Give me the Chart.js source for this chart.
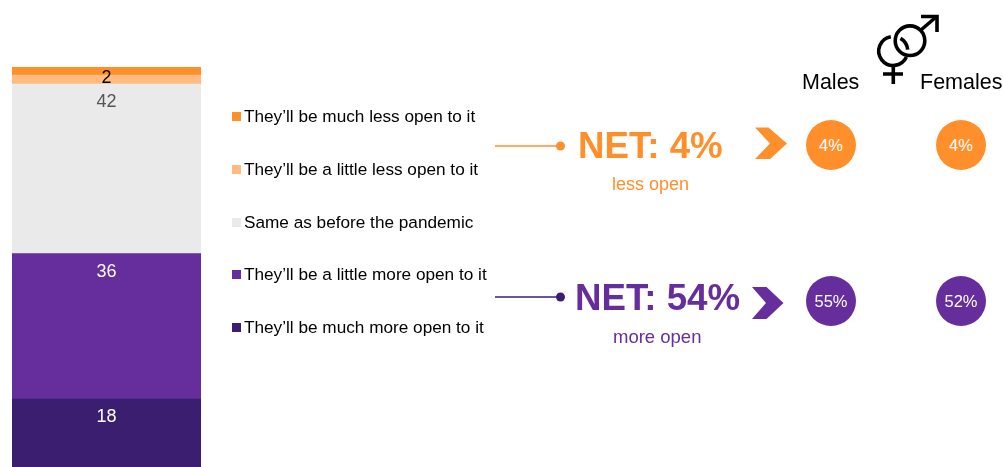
<!DOCTYPE html>
<html>
<head>
<meta charset="utf-8">
<script src="https://cdn.jsdelivr.net/npm/chart.js@4"></script>
<style>
html,body{margin:0;padding:0;background:#fff;width:1003px;height:467px;overflow:hidden}
#wrap{position:relative;width:1003px;height:467px;font-family:"Liberation Sans",Arial,sans-serif}
canvas{position:absolute;left:0;top:0}
.t{position:absolute;white-space:nowrap;line-height:1}
.sw{position:absolute;width:9px;height:9px}
.c{position:absolute;width:50px;height:50px;border-radius:50%;color:#fff;font-size:16.5px;display:flex;align-items:center;justify-content:center}
svg{position:absolute;left:0;top:0}
</style>
</head>
<body>
<div id="wrap">
<canvas id="chart" width="1003" height="467"></canvas>
<svg width="1003" height="467" viewBox="0 0 1003 467">
  <line x1="495" y1="146" x2="560" y2="146" stroke="#FF8F2B" stroke-width="1.4"/>
  <circle cx="560.5" cy="146" r="4.5" fill="#FF8F2B"/>
  <line x1="495" y1="297" x2="560" y2="297" stroke="#3B1E70" stroke-width="1.4"/>
  <circle cx="560.5" cy="297" r="4.5" fill="#3B1E70"/>
  <polygon points="755,127.5 768.5,127.5 787,143.5 770,159 755,159 770,143.5" fill="#FF8F2B"/>
  <polygon points="752,287 766.5,287 783.5,303 766.5,319 752,319 766,303" fill="#662D9C"/>
  <g fill="none" stroke="#000" stroke-width="3.6">
    <circle cx="910" cy="40.7" r="14.8"/>
    <path d="M921 30 L936 17"/>
    <path d="M921 16.5 H937 V32"/>
    <path d="M890.8 36.7 A14.5 14.5 0 1 0 906.4 57.1"/>
    <path d="M900.5 38.4 A14.5 14.5 0 0 1 907.7 49.7"/>
    <path d="M893.3 66 V84 M883 74 H903"/>
  </g>
</svg>
<div id="overlay"></div>
</div>
<script>
const categories = ['Openness'];
const seriesNames = [
  'They\u2019ll be much less open to it',
  'They\u2019ll be a little less open to it',
  'Same as before the pandemic',
  'They\u2019ll be a little more open to it',
  'They\u2019ll be much more open to it'
];
const muchLess = [2.0];
const littleLess = [2.2];
const same = [42];
const littleMore = [36];
const muchMore = [18];
const seriesColors = ['#FF8F2B', '#FFBB80', '#EAEAEA', '#662D9C', '#3B1E70'];
const valueLabelColors = ['', '#000000', '#555555', '#FFFFFF', '#FFFFFF'];
const netLess = 'NET: 4%';
const netMore = 'NET: 54%';
const groups = ['Males', 'Females'];
const lessByGroup = ['4%', '4%'];
const moreByGroup = ['55%', '52%'];

const seriesValues = [muchLess, littleLess, same, littleMore, muchMore];
const datasets = seriesNames.map((n, i) => ({
  label: n, data: seriesValues[i], backgroundColor: seriesColors[i],
  borderWidth: 0, barPercentage: 1, categoryPercentage: 1,
  labelColor: valueLabelColors[i]
})).reverse();

const valueLabels = {
  id: 'valueLabels',
  afterDatasetsDraw(chart) {
    const ctx = chart.ctx;
    ctx.save();
    ctx.font = '18px "Liberation Sans", Arial, sans-serif';
    ctx.textAlign = 'center';
    ctx.textBaseline = 'middle';
    chart.data.datasets.forEach((ds, i) => {
      if (!ds.labelColor) return;
      const bar = chart.getDatasetMeta(i).data[0];
      const h = bar.base - bar.y;
      ctx.fillStyle = ds.labelColor;
      ctx.fillText(String(Math.round(ds.data[0])), bar.x, bar.y + (h < 20 ? 3 : 18));
    });
    ctx.restore();
  }
};

new Chart(document.getElementById('chart'), {
  type: 'bar',
  data: { labels: categories, datasets },
  options: {
    responsive: false, animation: false,
    layout: { padding: { left: 12, right: 802, top: 67, bottom: 0 } },
    plugins: { legend: { display: false }, tooltip: { enabled: false } },
    scales: {
      x: { stacked: true, display: false },
      y: { stacked: true, display: false, min: 1.2, max: 100.2 }
    }
  },
  plugins: [valueLabels]
});

const ov = document.getElementById('overlay');
function text(s, x, cy, size, color, extra) {
  const d = document.createElement('div');
  d.className = 't';
  d.textContent = s;
  d.style.cssText = `left:${x}px;top:${cy - size / 2}px;font-size:${size}px;color:${color};${extra || ''}`;
  ov.appendChild(d);
}
const rowY = [117, 170, 223, 275, 328];
seriesNames.forEach((n, i) => {
  const s = document.createElement('div');
  s.className = 'sw';
  s.style.cssText = `left:232px;top:${rowY[i] - 5}px;background:${seriesColors[i]}`;
  ov.appendChild(s);
  text(n, 244, rowY[i], 17.2, '#000');
});
text(netLess, 578, 146, 36.7, '#FF8F2B', 'font-weight:bold');
text(netMore, 575, 298, 36.7, '#662D9C', 'font-weight:bold');
text('less open', 612, 184, 18, '#FF8F2B');
text('more open', 613, 337, 18.5, '#662D9C');
text(groups[0], 802, 83, 21.5, '#000');
text(groups[1], 920, 83, 21.5, '#000');
[831, 961].forEach((x, i) => {
  [[145, lessByGroup[i], '#FF8F2B'], [301, moreByGroup[i], '#662D9C']].forEach(([y, v, col]) => {
    const c = document.createElement('div');
    c.className = 'c';
    c.style.left = (x - 25) + 'px';
    c.style.top = (y - 25) + 'px';
    c.style.background = col;
    c.textContent = v;
    ov.appendChild(c);
  });
});
</script>
</body>
</html>
